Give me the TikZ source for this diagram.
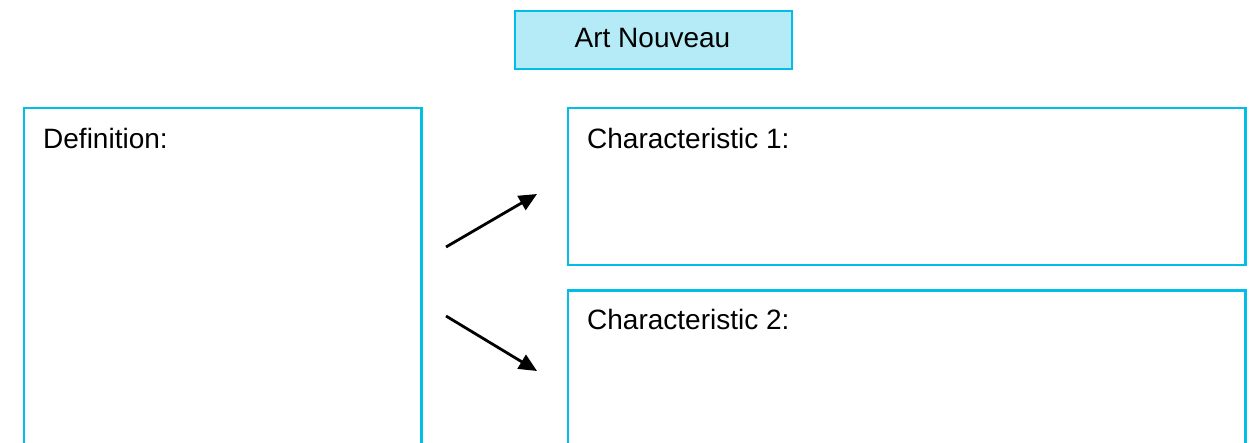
\documentclass[tikz,border=0pt]{standalone}
\usepackage{fontspec}
\setmainfont{Liberation Sans}
\usetikzlibrary{arrows.meta}
\definecolor{cyanline}{RGB}{0,190,232}
\definecolor{cyanfill}{RGB}{180,235,247}
\tikzset{
  box/.style={draw=cyanline, line width=2.6pt, rectangle, inner sep=0pt, anchor=north west},
  lbl/.style={anchor=base west, inner sep=0pt, font=\fontsize{28}{32}\selectfont},
  arr/.style={line width=2.8pt, -{Triangle[length=18pt,width=16pt]}}
}
\begin{document}
\begin{tikzpicture}[x=1pt,y=-1pt]
\useasboundingbox (0,0) rectangle (1256,442);
\clip (0,0) rectangle (1256,442);
\fill[white] (0,0) rectangle (1256,442);
% title
\node[box, fill=cyanfill, minimum width=277pt, minimum height=58pt] (title) at (513.5,9.5) {};
\node[anchor=base, inner sep=0pt, font=\fontsize{28}{32}\selectfont] (titletxt) at (652.5,47) {Art Nouveau};
% boxes
\node[box, minimum width=397.5pt, minimum height=380pt] (def) at (22.5,106.5) {};
\node[box, minimum width=677.5pt, minimum height=157pt] (c1) at (566.5,106.5) {};
\node[box, minimum width=677.5pt, minimum height=200pt] (c2) at (566.5,289) {};
\node[lbl] (deflbl) at (43,148) {Definition:};
\node[lbl] (c1lbl) at (587,148) {Characteristic 1:};
\node[lbl] (c2lbl) at (587,329) {Characteristic 2:};
% arrows
\coordinate (a1s) at (446,247);
\coordinate (a1e) at (537,194);
\coordinate (a2s) at (446,316);
\coordinate (a2e) at (537,371);
\draw[arr] (a1s) -- (a1e);
\draw[arr] (a2s) -- (a2e);
\end{tikzpicture}
\end{document}
